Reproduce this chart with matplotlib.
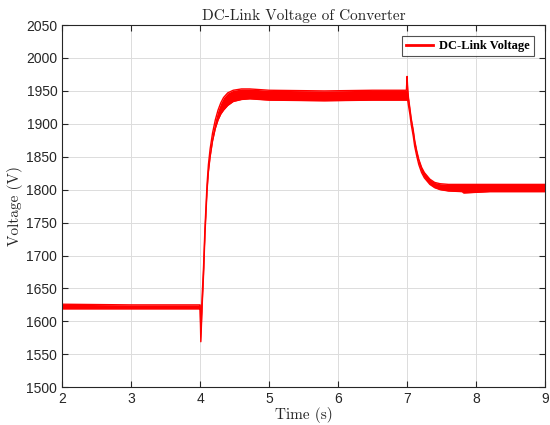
import matplotlib
matplotlib.use('Agg')
import matplotlib.pyplot as plt

# envelope of the DC-link voltage (time, upper, lower)
t_pts = [2.0, 3.0, 3.99, 4.0, 4.01, 4.03, 4.05, 4.07, 4.10, 4.12, 4.145, 4.18, 4.22,
         4.26, 4.30, 4.34, 4.40, 4.48, 4.60, 4.72, 5.0, 5.8, 6.5, 6.99, 7.0, 7.01,
         7.02, 7.04, 7.06, 7.09, 7.11, 7.14, 7.17, 7.21, 7.25, 7.33, 7.40, 7.48, 7.6,
         7.8, 7.82, 8.2, 9.0]
v_up = [1626, 1625, 1625, 1625, 1590, 1640, 1684, 1742, 1808, 1838, 1862, 1886, 1906,
        1921, 1932, 1940, 1947, 1951, 1953, 1953, 1951, 1950, 1951, 1951, 1972, 1952,
        1940, 1924, 1908, 1890, 1875, 1859, 1846, 1834, 1826, 1816, 1811, 1809, 1808,
        1808, 1808, 1808, 1808]
v_lo = [1619, 1619, 1619, 1619, 1569, 1625, 1672, 1732, 1798, 1827, 1850, 1874, 1893,
        1906, 1915, 1921, 1928, 1934, 1937, 1938, 1936, 1935, 1936, 1936, 1936, 1935,
        1928, 1915, 1899, 1881, 1866, 1851, 1838, 1826, 1818, 1808, 1803, 1800, 1798,
        1797, 1795, 1797, 1797]

xticks = [2, 3, 4, 5, 6, 7, 8, 9]
yticks = list(range(1500, 2051, 50))

fig = plt.figure(figsize=(5.5, 4.25), dpi=100)
ax = fig.add_axes([0.113, 0.089, 0.878, 0.852])

ax.fill_between(t_pts, v_lo, v_up, color='red', lw=0)
ax.plot(t_pts, v_up, color='red', lw=1.0, label='DC-Link Voltage')
ax.plot(t_pts, v_lo, color='red', lw=1.0)

ax.set_xlim(2, 9)
ax.set_ylim(1500, 2050)
ax.set_xticks(xticks)
ax.set_yticks(yticks)
ax.tick_params(direction='in', top=True, right=True, length=4, width=0.8,
               labelsize=10, colors='#262626')
for lab in ax.get_xticklabels() + ax.get_yticklabels():
    lab.set_family('Liberation Sans')
ax.grid(True, color='#dcdcdc', lw=0.7)
ax.set_axisbelow(True)
for s in ax.spines.values():
    s.set_color('#262626')
    s.set_linewidth(0.8)

ax.set_title('DC-Link Voltage of Converter', family='cmr10', fontsize=11, pad=4, color='#262626')
ax.set_xlabel('Time (s)', family='cmr10', fontsize=11, labelpad=1, color='#262626')
ax.set_ylabel('Voltage (V)', family='cmr10', fontsize=11, labelpad=2, color='#262626')

leg = ax.legend(loc='upper right', prop={'family': 'Liberation Serif', 'weight': 'bold', 'size': 9},
                fancybox=False, edgecolor='#262626', handlelength=2.2, handletextpad=0.5,
                borderaxespad=0.9, borderpad=0.3)
leg.get_frame().set_linewidth(0.8)
for h in leg.get_lines():
    h.set_linewidth(2)

plt.savefig('out.png', dpi=100)
